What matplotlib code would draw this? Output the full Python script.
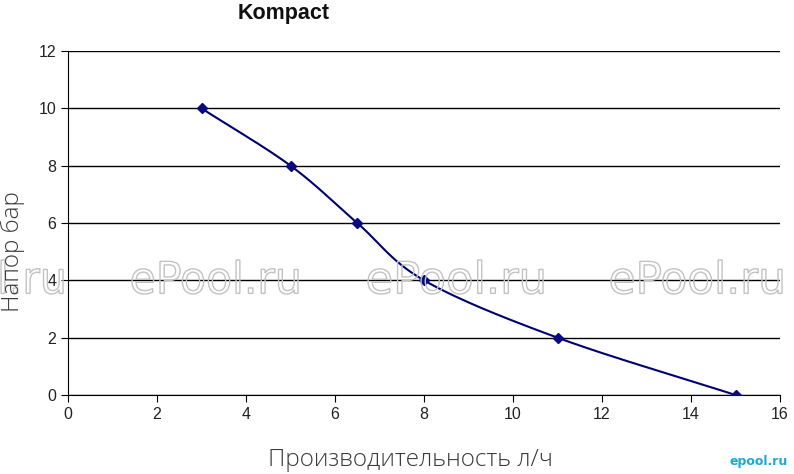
import numpy as np
import matplotlib
matplotlib.use("Agg")
import matplotlib.pyplot as plt
from matplotlib.textpath import TextPath
from matplotlib.patches import PathPatch
from matplotlib.font_manager import FontProperties
from matplotlib.transforms import Affine2D, IdentityTransform

# data
flow = [3, 5, 6.5, 8, 11, 15]       # л/ч
head = [10, 8, 6, 4, 2, 0]          # бар
x_ticks = [0, 2, 4, 6, 8, 10, 12, 14, 16]
y_ticks = [0, 2, 4, 6, 8, 10, 12]
title = "Kompact"
x_label = "Производительность л/ч"
y_label = "Напор бар"
watermark = "ePool.ru"

W, H = 794, 474


def smooth(xs, ys, n=30):
    # catmull-rom through the points, like excel's smoothed line
    p = np.column_stack([xs, ys]).astype(float)
    p = np.vstack([2 * p[0] - p[1], p, 2 * p[-1] - p[-2]])
    out = []
    t = np.linspace(0, 1, n)[:, None]
    for i in range(1, len(p) - 2):
        p0, p1, p2, p3 = p[i - 1], p[i], p[i + 1], p[i + 2]
        seg = 0.5 * ((2 * p1) + (-p0 + p2) * t
                     + (2 * p0 - 5 * p1 + 4 * p2 - p3) * t ** 2
                     + (-p0 + 3 * p1 - 3 * p2 + p3) * t ** 3)
        out.append(seg)
    out = np.vstack(out)
    return out[:, 0], out[:, 1]


fig = plt.figure(figsize=(W / 100, H / 100), dpi=100)
ax = fig.add_axes([68 / W, 79 / H, 712 / W, 344 / H])

ax.set_xlim(0, 16)
ax.set_ylim(0, 12)
ax.set_xticks(x_ticks)
ax.set_yticks(y_ticks)
ax.yaxis.grid(True, color="black", linewidth=1)
ax.set_axisbelow(True)
for s in ["top", "right"]:
    ax.spines[s].set_visible(False)
for s in ["left", "bottom"]:
    ax.spines[s].set_color("black")
ax.tick_params(direction="out", length=5, labelsize=11.5, colors="black",
               labelcolor="#222222")
for lab in ax.get_xticklabels() + ax.get_yticklabels():
    lab.set_family("Liberation Sans")

# watermark: outlined, narrow letters (pixel boxes: left, right)
tp = TextPath((0, 0), watermark, size=40, prop=FontProperties(family="DejaVu Sans"))
bb = tp.get_extents()
for x0, x1 in [(-103, 63), (132, 298), (368, 543), (611, 782)]:
    tr = (Affine2D().translate(-bb.x0, -bb.y0)
          .scale((x1 - x0) / bb.width, 34 / bb.height)
          .translate(x0, H - 294))
    fig.add_artist(PathPatch(tr.transform_path(tp), transform=IdentityTransform(),
                             facecolor="none", edgecolor="#c2c2c2", linewidth=1.0,
                             zorder=3))

sx, sy = smooth(flow, head)
ax.plot(sx, sy, color="#000070", linewidth=1.5, zorder=5)
ax.plot(flow, head, linestyle="none", marker="D", markersize=5.5,
        color="#0a0a80", zorder=6)

fig.text(284 / W, 1 - 14 / H, title, ha="center", va="center",
         fontsize=15.5, fontweight="bold", family="Liberation Sans", color="#111111")
fig.text(410 / W, 1 - 460 / H, x_label, ha="center", va="center",
         fontsize=17.5, color="#3a3a3a", family="Open Sans", fontweight="light")
fig.text(13 / W, 1 - 252 / H, y_label, ha="center", va="center", rotation=90,
         fontsize=17.5, color="#3a3a3a", family="Open Sans", fontweight="light")
fig.text(788 / W, 1 - 462 / H, "epool.ru", ha="right", va="center",
         fontsize=9, color="#1aaad6", fontweight="bold", family="DejaVu Sans")

fig.savefig("out.png", dpi=100)
